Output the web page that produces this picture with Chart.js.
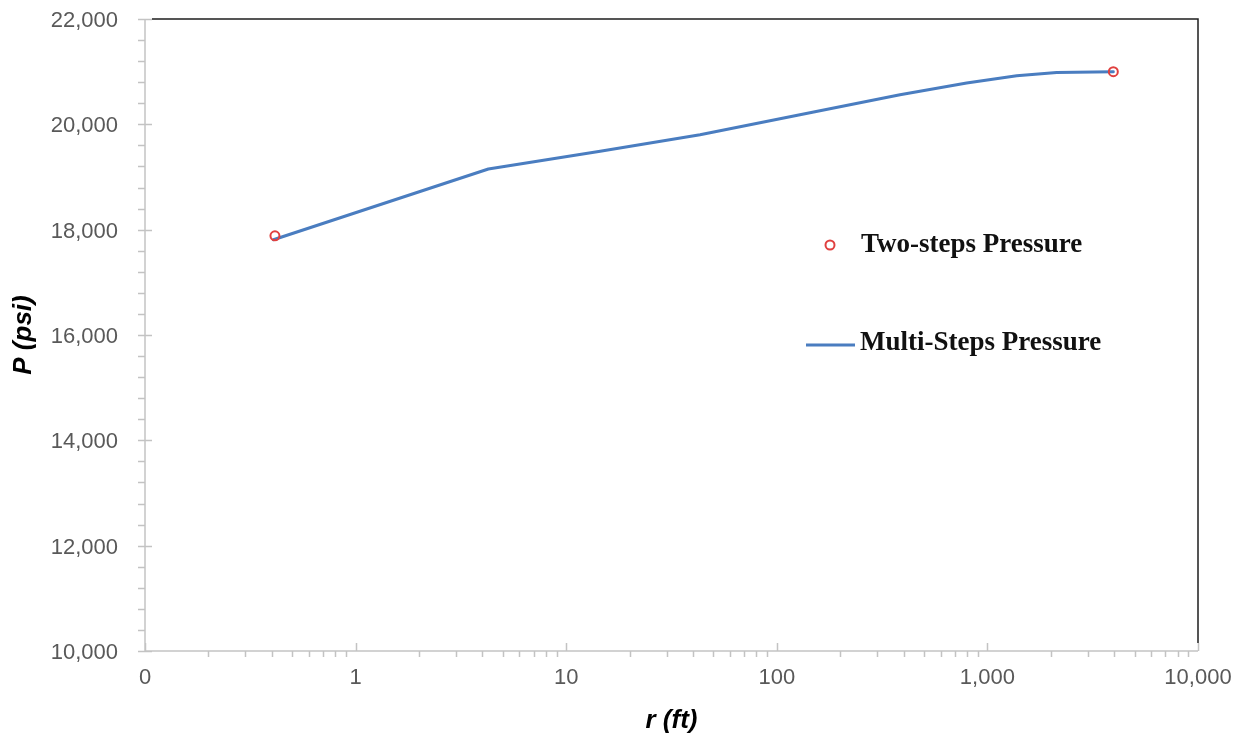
<!DOCTYPE html>
<html>
<head>
<meta charset="utf-8">
<script src="https://cdn.jsdelivr.net/npm/chart.js@4.4.1/dist/chart.umd.min.js"></script>
<style>
  html, body { margin: 0; padding: 0; background: #ffffff; }
  #wrap { width: 1242px; height: 736px; position: relative; }
</style>
</head>
<body>
<div id="wrap"><canvas id="c" width="1242" height="736"></canvas></div>
<script>
// Radial distance r (ft) and pressure P (psi)
const twoStepRadius = [0.414, 3962];
const twoStepPressure = [17884, 21000];

const multiStepRadius = [0.407, 4.27, 14.5, 43.2, 128.8, 384.6, 797, 1378, 2134, 3962];
const multiStepPressure = [17808, 19151, 19489, 19802, 20182, 20562, 20784, 20923, 20986, 21000];

const xTickValues = [0.1, 1, 10, 100, 1000, 10000];
const xTickLabels = ['0', '1', '10', '100', '1,000', '10,000'];
const yTickValues = [10000, 12000, 14000, 16000, 18000, 20000, 22000];
const yTickLabels = ['10,000', '12,000', '14,000', '16,000', '18,000', '20,000', '22,000'];

const seriesNames = ['Two-steps Pressure', 'Multi-Steps Pressure'];

const AXIS_GREY = '#c3c3c3';
const LABEL_GREY = '#595959';
const FRAME = '#1e1e1e';
const MARKER_RED = '#e0403f';
const LINE_BLUE = '#4a7dc0';

function toPoints(xs, ys) {
  return xs.map((x, i) => ({ x: x, y: ys[i] }));
}

// Axis lines, tick marks, the top/right frame and the in-plot legend
const decorations = {
  id: 'decorations',
  beforeDatasetsDraw(chart) {
    const { ctx, chartArea: a, scales: { x, y } } = chart;
    ctx.save();
    ctx.lineWidth = 1.5;
    ctx.strokeStyle = AXIS_GREY;
    ctx.beginPath();
    // axis lines
    ctx.moveTo(a.left, a.top); ctx.lineTo(a.left, a.bottom);
    ctx.moveTo(a.left, a.bottom); ctx.lineTo(a.right, a.bottom);
    // y ticks: majors cross the axis, minors sit outside
    for (let v = y.min; v <= y.max + 1; v += 400) {
      const py = Math.round(y.getPixelForValue(v)) + 0.5;
      const major = yTickValues.includes(v);
      ctx.moveTo(a.left - 7, py);
      ctx.lineTo(major ? a.left + 7 : a.left, py);
    }
    // x ticks: decades point inward, in-between values point outward
    for (let d = 0.1; d < 10000; d *= 10) {
      for (let m = 1; m < 10; m++) {
        const v = d * m;
        const px = Math.round(x.getPixelForValue(v)) + 0.5;
        if (m === 1) {
          ctx.moveTo(px, a.bottom); ctx.lineTo(px, a.bottom - 8);
        } else {
          ctx.moveTo(px, a.bottom); ctx.lineTo(px, a.bottom + 6);
        }
      }
    }
    const pe = Math.round(x.getPixelForValue(10000)) + 0.5;
    ctx.moveTo(pe, a.bottom); ctx.lineTo(pe, a.bottom - 8);
    ctx.stroke();

    // dark frame along the top and right edges
    ctx.strokeStyle = FRAME;
    ctx.lineWidth = 1.5;
    ctx.beginPath();
    ctx.moveTo(a.left + 7, a.top);
    ctx.lineTo(a.right, a.top);
    ctx.lineTo(a.right, a.bottom - 8);
    ctx.stroke();
    ctx.restore();
  },
  afterDraw(chart) {
    const { ctx } = chart;
    const ds = chart.data.datasets;
    ctx.save();
    ctx.font = 'bold 27px "Liberation Serif", "Times New Roman", serif';
    ctx.fillStyle = '#111111';
    ctx.textBaseline = 'middle';
    ctx.textAlign = 'left';

    // scatter entry
    ctx.beginPath();
    ctx.arc(830, 245, 4.5, 0, Math.PI * 2);
    ctx.lineWidth = 2;
    ctx.strokeStyle = ds[0].pointBorderColor;
    ctx.stroke();
    ctx.fillText(ds[0].label, 861, 245);

    // line entry
    ctx.beginPath();
    ctx.moveTo(806, 345);
    ctx.lineTo(855, 345);
    ctx.lineWidth = 3;
    ctx.strokeStyle = ds[1].borderColor;
    ctx.stroke();
    ctx.fillText(ds[1].label, 860, 343);
    ctx.restore();
  }
};

const ctx = document.getElementById('c').getContext('2d');
new Chart(ctx, {
  type: 'scatter',
  data: {
    datasets: [
      {
        label: seriesNames[0],
        data: toPoints(twoStepRadius, twoStepPressure),
        showLine: false,
        pointStyle: 'circle',
        pointRadius: 4.5,
        pointBorderWidth: 2,
        pointBorderColor: MARKER_RED,
        pointBackgroundColor: 'rgba(255,255,255,0)',
        order: 0
      },
      {
        label: seriesNames[1],
        data: toPoints(multiStepRadius, multiStepPressure),
        showLine: true,
        borderColor: LINE_BLUE,
        borderWidth: 3,
        pointRadius: 0,
        tension: 0,
        borderCapStyle: 'round',
        borderJoinStyle: 'round',
        order: 1
      }
    ]
  },
  options: {
    responsive: false,
    animation: false,
    devicePixelRatio: 1,
    layout: { padding: { left: 0, right: 44, top: 19, bottom: 0 } },
    plugins: {
      legend: { display: false },
      tooltip: { enabled: false }
    },
    scales: {
      x: {
        type: 'logarithmic',
        min: 0.1,
        max: 10000,
        afterBuildTicks: s => { s.ticks = xTickValues.map(v => ({ value: v })); },
        afterFit: s => { s.height = 85; s.paddingLeft = 0; s.paddingRight = 0; },
        grid: { display: false, drawTicks: false },
        border: { display: false },
        ticks: {
          autoSkip: false,
          maxRotation: 0,
          padding: 14,
          color: LABEL_GREY,
          font: { family: '"Liberation Sans", Arial, sans-serif', size: 22 },
          callback: (v, i) => xTickLabels[i]
        },
        title: {
          display: true,
          text: 'r (ft)',
          color: '#000000',
          padding: { top: 0, bottom: 0 },
          font: { family: '"Liberation Sans", Arial, sans-serif', size: 26, weight: 'bold', style: 'italic' }
        }
      },
      y: {
        type: 'linear',
        min: 10000,
        max: 22000,
        afterBuildTicks: s => { s.ticks = yTickValues.map(v => ({ value: v })); },
        afterFit: s => { s.width = 145; s.paddingTop = 0; s.paddingBottom = 0; },
        grid: { display: false, drawTicks: false },
        border: { display: false },
        ticks: {
          padding: 27,
          labelOffset: 2,
          color: LABEL_GREY,
          font: { family: '"Liberation Sans", Arial, sans-serif', size: 22 },
          callback: (v, i) => yTickLabels[i]
        },
        title: {
          display: true,
          text: 'P (psi)',
          color: '#000000',
          padding: { top: 8, bottom: 0 },
          font: { family: '"Liberation Sans", Arial, sans-serif', size: 26, weight: 'bold', style: 'italic' }
        }
      }
    }
  },
  plugins: [decorations]
});
</script>
</body>
</html>
